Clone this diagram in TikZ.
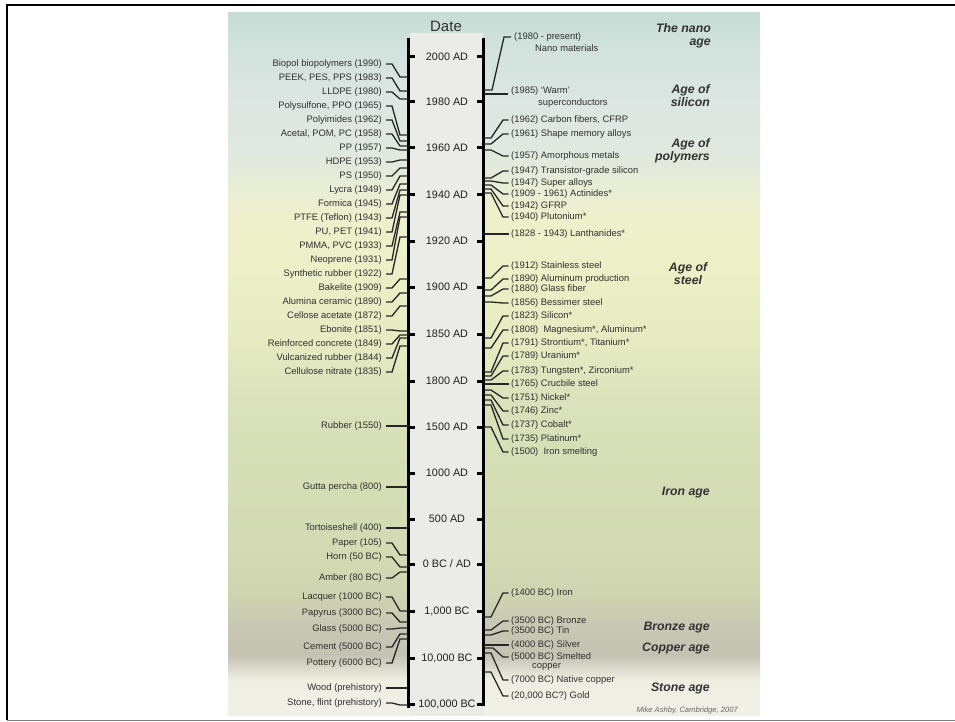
\documentclass[tikz,border=0pt]{standalone}
\usepackage{fontspec}
\setmainfont{Liberation Sans}
\definecolor{txt}{HTML}{303030}
\definecolor{colbg}{HTML}{EBEBE8}
\definecolor{g1}{HTML}{C6DCD5}
\definecolor{g2}{HTML}{D2E2DD}
\definecolor{g3}{HTML}{DCE6E3}
\definecolor{g4}{HTML}{E0E8E0}
\definecolor{g5}{HTML}{E8EDD6}
\definecolor{g6}{HTML}{EEF0CC}
\definecolor{g7}{HTML}{EDF0C6}
\definecolor{g8}{HTML}{E6EBC1}
\definecolor{g9}{HTML}{DCE3BC}
\definecolor{g10}{HTML}{D7DFB7}
\definecolor{g11}{HTML}{D3DAB3}
\definecolor{g12}{HTML}{CDD2B0}
\definecolor{g13}{HTML}{C8C8B4}
\definecolor{g14}{HTML}{C4C2B2}
\definecolor{g15}{HTML}{DAD9CB}
\definecolor{g16}{HTML}{EEEEE2}
\definecolor{g17}{HTML}{F0F0E7}
\begin{document}
\begin{tikzpicture}[x=1pt,y=-1pt,
  lab/.style={font=\fontsize{9.4}{11}\selectfont, text=txt, inner sep=0pt},
  conn/.style={draw=black!85, line width=1.3pt},
  ticklab/.style={font=\fontsize{10.8}{12}\selectfont, text=black!88, inner sep=0pt},
  agelab/.style={font=\fontsize{12.3}{13.2}\selectfont\bfseries\itshape, text=black!80, inner sep=0pt},
  axisline/.style={line width=3pt, black},
  tickmark/.style={line width=3pt, black}]
\useasboundingbox (0,0) rectangle (955,722);
% frame
\draw[line width=2.5pt] (6,5) -- (955,5);
\draw[line width=2.5pt] (7,5) -- (7,720);
\draw[black!50, line width=1.5pt] (7,720.5) -- (955,720.5);
% background bands
\foreach \ya/\yb/\ca/\cb in {13/50/g1/g2, 50/100/g2/g3, 100/150/g3/g4, 150/185/g4/g5, 185/215/g5/g6, 215/270/g6/g7, 270/340/g7/g8, 340/390/g8/g9, 390/450/g9/g10, 450/560/g10/g11, 560/600/g11/g12, 600/625/g12/g13, 625/655/g13/g14, 655/668/g14/g15, 668/680/g15/g16, 680/715/g16/g17}
  {\fill[top color=\ca, bottom color=\cb] (228,\ya-0.4) rectangle (760,\yb+0.4);}
% centre column
\fill[colbg] (410,33) rectangle (483,715);
\node[font=\fontsize{15}{16}\selectfont, text=black!80, inner sep=0pt] (date) at (446,26.5) {Date};
% axes
\draw[axisline] (408.5,38) -- (408.5,708);
\draw[axisline] (483.5,38) -- (483.5,706);
\foreach \y/\t [count=\i] in {57/2000 AD, 102/1980 AD, 148/1960 AD, 195/1940 AD, 241/1920 AD, 287/1900 AD, 334/1850 AD, 381/1800 AD, 427/1500 AD, 473/1000 AD, 519/500 AD, 564/{0 BC / AD}, 611/{1,000 BC}, 658/{10,000 BC}, 704/{100,000 BC}}
{
  \draw[tickmark] (407.5,\y) -- (415,\y);
  \draw[tickmark] (477,\y) -- (484.5,\y);
  \node[ticklab] (T\i) at (447,\y) {\t};
}
% left labels
\foreach \t/\ly/\ey [count=\i] in {
 {Biopol biopolymers (1990)}/64/77,
 {PEEK, PES, PPS (1983)}/78/91,
 {LLDPE (1980)}/92/99,
 {Polysulfone, PPO (1965)}/106/135,
 {Polyimides (1962)}/120/141,
 {Acetal, POM, PC (1958)}/134/146,
 {PP (1957)}/148/150,
 {HDPE (1953)}/162/160,
 {PS (1950)}/176/168,
 {Lycra (1949)}/190/176,
 {Formica (1945)}/204/184,
 {PTFE (Teflon) (1943)}/218/190,
 {PU, PET (1941)}/232/195,
 {PMMA, PVC (1933)}/246/212,
 {Neoprene (1931)}/260/217,
 {Synthetic rubber (1922)}/274/237,
 {Bakelite (1909)}/288/279,
 {Alumina ceramic (1890)}/302/293,
 {Cellose acetate (1872)}/316/306,
 {Ebonite (1851)}/330/331,
 {Reinforced concrete (1849)}/344/335,
 {Vulcanized rubber (1844)}/358/338,
 {Cellulose nitrate (1835)}/372/346,
 {Rubber (1550)}/426/426,
 {Gutta percha (800)}/487/487,
 {Tortoiseshell (400)}/528/528,
 {Paper (105)}/543/555,
 {Horn (50 BC)}/557/567,
 {Amber (80 BC)}/578/572,
 {Lacquer (1000 BC)}/597/611,
 {Papyrus (3000 BC)}/613/622,
 {Glass (5000 BC)}/629/628,
 {Cement (5000 BC)}/647/634,
 {Pottery (6000 BC)}/663/639,
 {Wood (prehistory)}/688/688,
 {Stone, flint (prehistory)}/703/705}
{
  \node[lab, anchor=east] (L\i) at (382,\ly) {\t};
  \coordinate (LA\i) at (408,\ey);
  \draw[conn] ([xshift=4pt]L\i.east) -- ++(6,0) -- (400,\ey) -- (LA\i);
}
% right labels
\foreach \t/\ly/\ey [count=\i] in {
 {(1962) Carbon fibers, CFRP}/120/138,
 {(1961) Shape memory alloys}/134/144,
 {(1957) Amorphous metals}/156/150,
 {(1947) Transistor-grade silicon}/171/178,
 {(1947) Super alloys}/183/181,
 {(1909 - 1961) Actinides*}/194/185,
 {(1942) GFRP}/206/189,
 {(1940) Plutonium*}/217/193,
 {(1828 - 1943) Lanthanides*}/234/234,
 {(1912) Stainless steel}/266/278,
 {(1890) Aluminum production}/279/290,
 {(1880) Glass fiber}/289/296,
 {(1856) Bessimer steel}/303/302,
 {(1823) Silicon*}/316/338,
 {(1808)\ \ Magnesium*, Aluminum*}/330/348,
 {(1791) Strontium*, Titanium*}/343/372,
 {(1789) Uranium*}/356/376,
 {(1783) Tungsten*, Zirconium*}/371/380,
 {(1765) Crucbile steel}/384/384,
 {(1751) Nickel*}/398/390,
 {(1746) Zinc*}/411/395,
 {(1737) Cobalt*}/425/400,
 {(1735) Platinum*}/439/405,
 {(1500)\ \ Iron smelting}/452/427,
 {(1400 BC) Iron}/593/617,
 {(3500 BC) Bronze}/621/630,
 {(3500 BC) Tin}/631/635,
 {(4000 BC) Silver}/645/645,
 {(7000 BC) Native copper}/680/653,
 {(20,000 BC?) Gold}/696/672}
{
  \node[lab, anchor=west] (R\i) at (511,\ly) {\t};
  \coordinate (RA\i) at (484,\ey);
  \draw[conn] (RA\i) -- ++(7,0) -- ([xshift=-8pt]R\i.west) -- ([xshift=-2.5pt]R\i.west);
}
% two-line right labels
\node[lab, anchor=west] (N1) at (514,37) {(1980 - present)};
\node[lab, anchor=west] (N2) at (535,48) {Nano materials};
\coordinate (NA) at (484,90);
\draw[conn] (NA) -- ++(8,0) -- ([xshift=-10pt]N1.west) -- ([xshift=-3pt]N1.west);
\node[lab, anchor=west] (W1) at (511,91) {(1985) `Warm'};
\node[lab, anchor=west] (W2) at (538,103) {superconductors};
\coordinate (WA) at (484,94);
\draw[conn] (WA) -- ([xshift=-3pt]W1.west |- WA);
\node[lab, anchor=west] (S1) at (511,657) {(5000 BC) Smelted};
\node[lab, anchor=west] (S2) at (532,667) {copper};
\coordinate (SA) at (484,648);
\draw[conn] (SA) -- ++(9,0) -- ([xshift=-8pt]S1.west) -- ([xshift=-2.5pt]S1.west);
% ages
\node[agelab, align=right, anchor=east] (a1) at (711,35.5) {The nano\\age};
\node[agelab, align=right, anchor=east] (a2) at (710,96) {Age of\\silicon};
\node[agelab, align=right, anchor=east] (a3) at (710,151) {Age of\\polymers};
\node[agelab, align=center] (a4) at (688,273.5) {Age of\\steel};
\node[agelab, anchor=east] (a5) at (710,493) {Iron age};
\node[agelab, anchor=east] (a6) at (710,628) {Bronze age};
\node[agelab, anchor=east] (a7) at (710,648) {Copper age};
\node[agelab, anchor=east] (a8) at (710,688) {Stone age};
\node[font=\fontsize{7.6}{8}\selectfont\itshape, text=black!60, inner sep=0pt, anchor=east] (credit) at (738,711) {Mike Ashby, Cambridge, 2007};
\end{tikzpicture}
\end{document}
